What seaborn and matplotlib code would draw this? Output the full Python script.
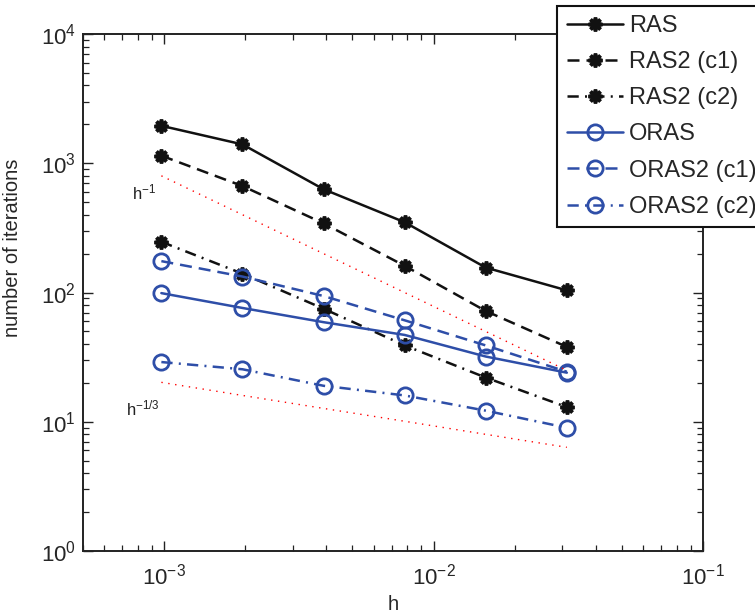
import numpy as np
import pandas as pd
import matplotlib
matplotlib.use("Agg")
import matplotlib.pyplot as plt
import seaborn as sns

# mesh sizes h = 1/1024 ... 1/32
h = [1/1024, 1/512, 1/256, 1/128, 1/64, 1/32]

ras = [1950, 1400, 630, 350, 156, 104]
ras2_c1 = [1145, 667, 343, 161, 72, 38]
ras2_c2 = [247, 140, 75, 39, 22, 13]
oras = [99, 76, 59, 47, 32, 24]
oras2_c1 = [175, 133, 94, 61, 39, 24.4]
oras2_c2 = [29, 25.5, 19, 16, 12.2, 9]

# reference slopes drawn as red dotted lines
ref_h1 = [800, 400, 200, 100, 50, 25]
ref_h13 = [20.2, 16.0, 12.7, 10.1, 8.0, 6.35]

labels = ['RAS', 'RAS2 (c1)', 'RAS2 (c2)', 'ORAS', 'ORAS2 (c1)', 'ORAS2 (c2)']

sns.set_theme(style='ticks')
plt.rcParams['font.family'] = ['Liberation Sans', 'DejaVu Sans']
plt.rcParams['mathtext.default'] = 'regular'
plt.rcParams['xtick.direction'] = 'in'
plt.rcParams['ytick.direction'] = 'in'

black = '#111111'
blue = '#2E4EA8'
dash = (0, (4.8, 2.8))
dashdot = (0, (4.5, 2.5, 0.8, 2.5))

series = [
    (ras, black, '-', 'star'),
    (ras2_c1, black, dash, 'star'),
    (ras2_c2, black, dashdot, 'star'),
    (oras, blue, '-', 'circ'),
    (oras2_c1, blue, dash, 'circ'),
    (oras2_c2, blue, dashdot, 'circ'),
]

fig = plt.figure(figsize=(7.55, 6.13), dpi=100)
ax = fig.add_axes([0.110, 0.101, 0.821, 0.8435])

for (vals, col, ls, mk), lab in zip(series, labels):
    df = pd.DataFrame({'h': h, 'it': vals})
    if mk == 'star':
        mkw = dict(marker=(8, 2, 0), markersize=10, markeredgewidth=2.6,
                   markeredgecolor=col, markerfacecolor=col)
    else:
        mkw = dict(marker='o', markersize=11, markeredgewidth=2.0,
                   markeredgecolor=col, markerfacecolor='none')
    sns.lineplot(data=df, x='h', y='it', ax=ax, color=col, linestyle=ls,
                 linewidth=1.8, label=lab, legend=False, **mkw)

sns.lineplot(x=h, y=ref_h1, ax=ax, color='red', linewidth=1.0,
             linestyle=(0, (1, 4)), legend=False)
sns.lineplot(x=h, y=ref_h13, ax=ax, color='red', linewidth=1.0,
             linestyle=(0, (1, 4)), legend=False)

ax.text(7.6e-4, 600, r'$h^{-1}$', fontsize=12, ha='left', va='center', color='#222222')
ax.text(7.2e-4, 12.8, r'$h^{-1/3}$', fontsize=12, ha='left', va='center', color='#222222')

ax.set_xscale('log')
ax.set_yscale('log')
ax.set_xlim(5e-4, 1e-1)
ax.set_ylim(1, 1e4)

ax.tick_params(which='both', top=True, right=True, labelsize=16, color='#222222')
ax.tick_params(which='major', length=7, width=1.0)
ax.tick_params(which='minor', length=4, width=0.9)
ax.tick_params(axis='x', which='major', pad=9)
ax.tick_params(axis='y', which='major', pad=5)
for sp in ax.spines.values():
    sp.set_linewidth(1.4)
    sp.set_color('#222222')

ax.set_xlabel('h', fontsize=14.5, labelpad=4)
ax.set_ylabel('number of iterations', fontsize=14.5)
ax.yaxis.set_label_coords(-0.098, 0.586)

handles, labs = ax.get_legend_handles_labels()
leg = fig.legend(handles, labs, loc='upper left', bbox_to_anchor=(0.738, 0.991),
                 bbox_transform=fig.transFigure, fontsize=17, frameon=True,
                 fancybox=False, framealpha=1, edgecolor='#111111',
                 handlelength=2.4, handletextpad=0.25, labelspacing=0.6,
                 borderpad=0.4, borderaxespad=0)
leg.get_frame().set_linewidth(1.5)

fig.savefig('out.png', dpi=100)
